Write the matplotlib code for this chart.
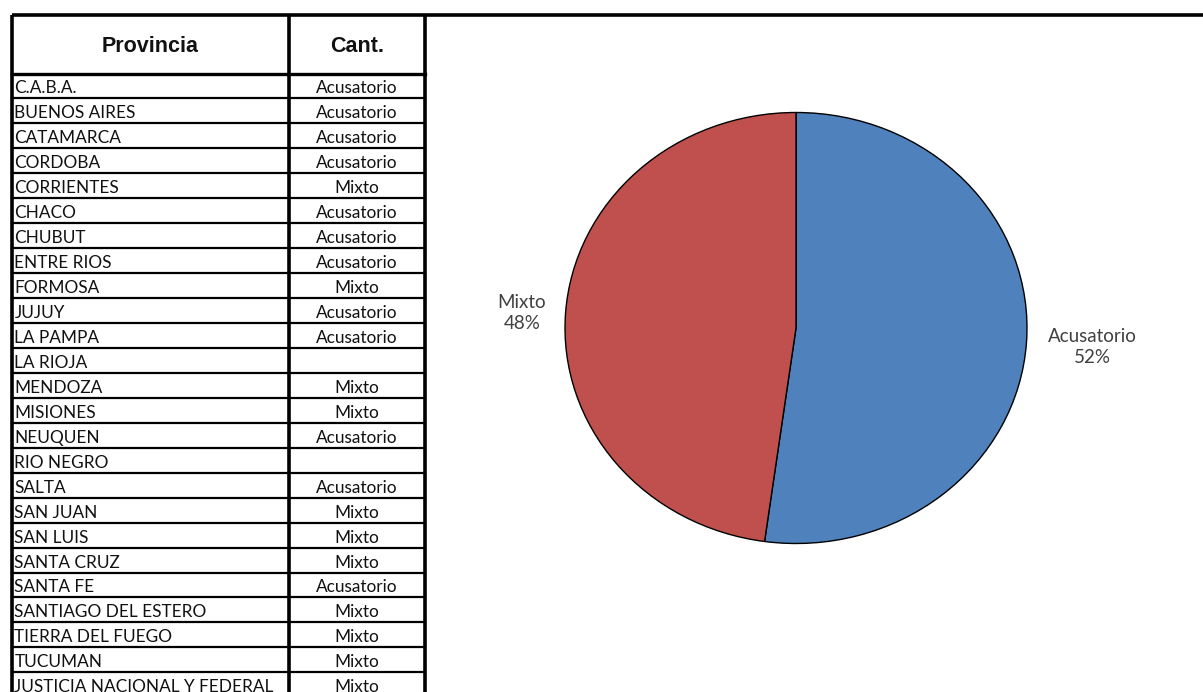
import matplotlib.pyplot as plt

# table data
provincias = ["C.A.B.A.", "BUENOS AIRES", "CATAMARCA", "CORDOBA", "CORRIENTES", "CHACO",
              "CHUBUT", "ENTRE RIOS", "FORMOSA", "JUJUY", "LA PAMPA", "LA RIOJA",
              "MENDOZA", "MISIONES", "NEUQUEN", "RIO NEGRO", "SALTA", "SAN JUAN",
              "SAN LUIS", "SANTA CRUZ", "SANTA FE", "SANTIAGO DEL ESTERO",
              "TIERRA DEL FUEGO", "TUCUMAN", "JUSTICIA NACIONAL Y FEDERAL"]
sistema = ["Acusatorio", "Acusatorio", "Acusatorio", "Acusatorio", "Mixto", "Acusatorio",
           "Acusatorio", "Acusatorio", "Mixto", "Acusatorio", "Acusatorio", "",
           "Mixto", "Mixto", "Acusatorio", "", "Acusatorio", "Mixto",
           "Mixto", "Mixto", "Acusatorio", "Mixto",
           "Mixto", "Mixto", "Mixto"]
headers = ["Provincia", "Cant."]

pie_labels = ["Acusatorio", "Mixto"]
pie_counts = [sistema.count(k) for k in pie_labels]
pie_colors = ["#4F81BD", "#C0504D"]

W, H = 1203, 692
fig = plt.figure(figsize=(W / 100, H / 100), dpi=100)
ax = fig.add_axes([0, 0, 1, 1])
ax.set_xlim(0, W)
ax.set_ylim(H, 0)
ax.axis("off")

# table geometry (pixels)
x0, x1, x2 = 11.5, 288.5, 425
y_top, y_head = 15, 73.5
row_h = 24.95
body_font = ["Lato", "DejaVu Sans"]

# top rule across the page and outer borders
ax.plot([x0, W], [y_top, y_top], color="black", lw=2.6, solid_capstyle="butt")
for x in (x0, x1, x2):
    ax.plot([x, x], [y_top, H + 5], color="black", lw=2.6, solid_capstyle="butt")
ax.plot([x0, x2], [y_head, y_head], color="black", lw=2.4)

ax.text((x0 + x1) / 2, 46, headers[0], ha="center", va="center",
        fontsize=15.5, fontweight="bold", family="Liberation Sans", color="#111111")
ax.text((x1 + x2) / 2, 46, headers[1], ha="center", va="center",
        fontsize=15.5, fontweight="bold", family="Liberation Sans", color="#111111")

for i, (prov, sis) in enumerate(zip(provincias, sistema)):
    yc = y_head + row_h * (i + 0.5)
    ax.text(x0 + 3, yc + 2.5, prov, ha="left", va="center", fontsize=12.4,
            family=body_font, color="#111111")
    if sis:
        ax.text((x1 + x2) / 2, yc + 2.5, sis, ha="center", va="center",
                fontsize=12.4, family=body_font, color="#111111")
    yl = y_head + row_h * (i + 1)
    if yl < H:
        ax.plot([x0, x2], [yl, yl], color="black", lw=1.6)

# pie chart (elliptical, like the source)
cx, cy, rx, ry = 796, 328, 231, 215.5
pax = fig.add_axes([(cx - rx) / W, 1 - (cy + ry) / H, 2 * rx / W, 2 * ry / H])
total = sum(pie_counts)
texts_lbl = [f"{lab}\n{round(100 * c / total)}%" for lab, c in zip(pie_labels, pie_counts)]
wedges, texts = pax.pie(pie_counts, colors=pie_colors, startangle=90, counterclock=False,
                        labels=texts_lbl, labeldistance=1.0,
                        wedgeprops=dict(edgecolor="black", linewidth=1.0),
                        textprops=dict(fontsize=13.5, color="#404040", family=body_font,
                                       linespacing=1.3))
# push labels outward like the Excel layout
for t, d, dy in zip(texts, [1.285, 1.19], [0.0, -0.012]):
    px, py = t.get_position()
    t.set_position((px * d, py * d + dy))
    t.set_ha("center")
    t.set_va("center")
pax.set_aspect("auto")
pax.set_xlim(-1.0, 1.0)
pax.set_ylim(-1.0, 1.0)

fig.savefig("out.png", dpi=100)
